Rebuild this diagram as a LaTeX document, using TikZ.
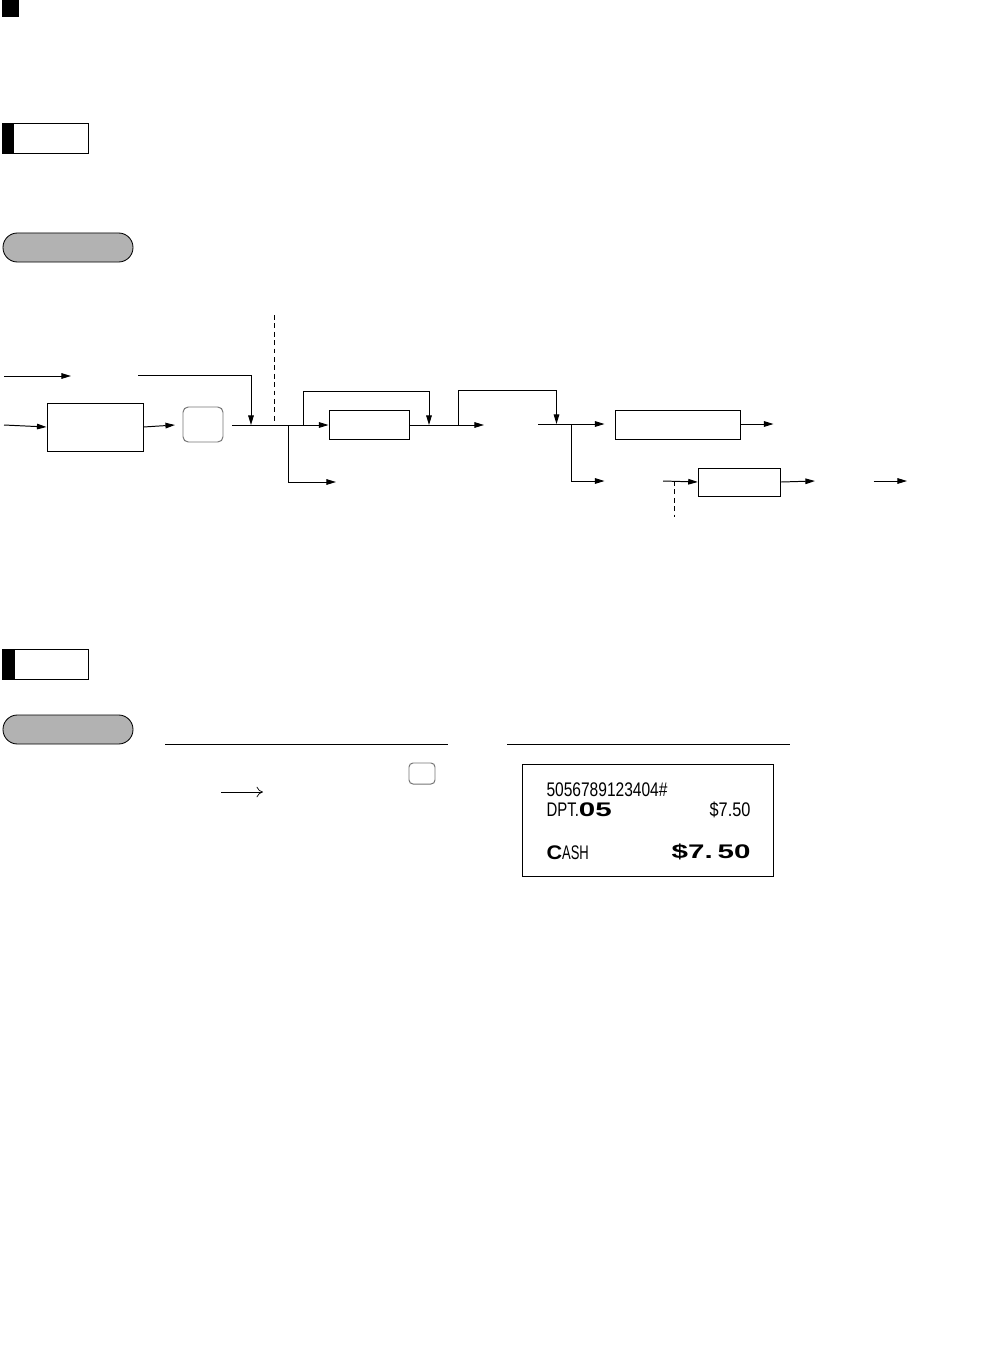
\documentclass[tikz,border=0pt]{standalone}
\usepackage{fontspec}
\usepackage{graphicx}
\usepackage{xcolor}
\usepackage{tikz}
\usetikzlibrary{arrows.meta,positioning,calc}
\newfontfamily\rcptfont{Liberation Sans}
\newcommand{\thin}[2]{\scalebox{#1}[1]{\rcptfont\fontsize{14}{14}\selectfont #2}}
\newcommand{\wide}[2]{\scalebox{#1}[1]{\rcptfont\bfseries\fontsize{14}{14}\selectfont #2}}

\begin{document}
\begin{tikzpicture}[
    x=0.25mm, y=-0.25mm,
    line width=0.7pt,
    box/.style={draw, minimum width=#1, minimum height=7.25mm, inner sep=0pt},
    keycap/.style={draw=black!55, rounded corners=1.3mm, inner sep=0pt},
    headbox/.style={draw, anchor=north west, minimum width=21.5mm, minimum height=7.5mm, inner sep=0pt},
    pill/.style={draw, fill=black!30, line width=0.6pt, rounded corners=3.6mm, minimum width=32.5mm, minimum height=7.25mm, inner sep=0pt},
    arr/.style={-{Triangle[length=2.4mm, width=1.4mm]}},
    guide/.style={dashed, dash pattern=on 1.2mm off 0.9mm, line width=0.5pt},
    txt/.style={inner sep=0pt, anchor=base west},
]
    \useasboundingbox (0,0) rectangle (989,1372);

    \node[fill=black, minimum size=4.25mm, inner sep=0pt, anchor=north west] (mark) at (2,0) {};
    \node[headbox] (note1) at (2,123) {};
    \fill (note1.north west) rectangle ++(12,30);
    \node[pill] (proc1) at (68,247.5) {};

    % key operation
    \coordinate (in1a) at (4,376);
    \coordinate (in1b) at (71,376);
    \coordinate (in2a) at (138,375);
    \coordinate (join1) at (251,425);
    \coordinate (in0) at (4,425);
    \node[box=24mm, minimum height=12mm] (entry) at (95,427) {};
    \coordinate (keyin) at (175,425);
    \node[keycap, minimum width=10mm, minimum height=8.75mm] (key1) at (203,424.5) {};
    \coordinate (keyout) at (232,425);
    \node[box=20mm] (rpt) at (369,425) {};
    \coordinate (split1) at (288,425);
    \coordinate (alt1) at (336,482);
    \coordinate (loop1) at (303,425);
    \coordinate (back1) at (429,425);
    \coordinate (out1) at (484,425);
    \coordinate (loop2) at (458.5,425);
    \coordinate (back2) at (556.5,424);
    \coordinate (mid) at (538,424);
    \coordinate (mid1) at (604.5,424);
    \coordinate (split2) at (571,424);
    \coordinate (mid2) at (604.5,481);
    \node[box=31.4mm] (tend) at (677.8,424.5) {};
    \coordinate (out2) at (773.5,424);
    \coordinate (low) at (663,481);
    \node[box=20.6mm, minimum height=7mm] (amt) at (739.5,482) {};
    \coordinate (out3) at (815,481);
    \coordinate (end1) at (873.5,481);
    \coordinate (end2) at (907,481);

    \draw[arr] (in1a) -- (in1b);
    \draw[arr] (in2a) -| (join1);
    \draw[arr] (in0) -- (entry.west);
    \draw[arr] (entry.east) -- (keyin);
    \draw[arr] (keyout) -- (rpt.west);
    \draw[arr] (split1) |- (alt1);
    \draw[arr] (loop1) |- (429,391) -- (back1);
    \draw[arr] (rpt.east) -- (out1);
    \draw[arr] (loop2) |- (556.5,390) -- (back2);
    \draw[arr] (mid) -- (mid1);
    \draw[arr] (split2) |- (mid2);
    \draw[arr] (tend.east |- out2) -- (out2);
    \draw[arr] (low) -- (amt.west);
    \draw[arr] (amt.east) -- (out3);
    \draw[arr] (end1) -- (end2);
    \draw[guide] (274,315) -- (274,423);
    \draw[guide] (674.5,481) -- (674.5,517);

    % example
    \node[headbox] (note2) at (2,649) {};
    \fill (note2.north west) rectangle ++(13,30);
    \node[pill] (proc2) at (68,729.5) {};
    \draw (165,744) coordinate (rule1a) -- (448,744) coordinate (rule1b);
    \draw (507,744) coordinate (rule2a) -- (790,744) coordinate (rule2b);
    \node[keycap, rounded corners=1mm, minimum width=6.5mm, minimum height=5.25mm] (key2) at (422,773.5) {};
    \coordinate (step1) at (221,792);
    \coordinate (step2) at (263,792);
    \draw[line width=0.5pt, -{To[length=1.6mm, width=2.6mm]}] (step1) -- (step2);

    \node[draw, minimum width=62.75mm, minimum height=28mm, inner sep=0pt] (receipt) at (647.5,820) {};
    \node[txt] (code) at (546,796) {\thin{0.79}{5056789123404\#}};
    \node[txt] (dpt) at (546,816) {\thin{0.76}{DPT.}\wide{1.5}{05}};
    \node[txt, anchor=base east] (price) at (751,816) {\thin{0.83}{\$7.50}};
    \node[txt] (cash) at (546,859) {\wide{1.1}{C}\thin{0.66}{ASH}};
    \node[txt, anchor=base east] (total) at (751,858) {\wide{1.5}{\$7.\,50}};
\end{tikzpicture}
\end{document}
